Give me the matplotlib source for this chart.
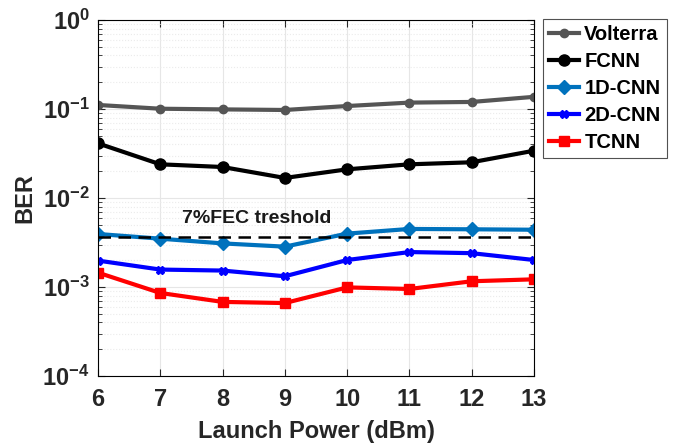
import numpy as np
import matplotlib.pyplot as plt
from matplotlib.ticker import LogLocator, NullFormatter

plt.rcParams['font.family'] = ['Liberation Sans', 'DejaVu Sans']
plt.rcParams['font.weight'] = 'bold'

power = [6, 7, 8, 9, 10, 11, 12, 13]
volterra = [0.111, 0.1007, 0.099, 0.0975, 0.108, 0.118, 0.120, 0.137]
fcnn = [0.0411, 0.0239, 0.0223, 0.0168, 0.0210, 0.0239, 0.0252, 0.0340]
cnn1d = [0.00394, 0.00349, 0.00309, 0.00284, 0.00398, 0.00449, 0.00445, 0.00440]
cnn2d = [0.00198, 0.00157, 0.00153, 0.00132, 0.00201, 0.00247, 0.00240, 0.00201]
tcnn = [0.00145, 0.000857, 0.00068, 0.00066, 0.00099, 0.00095, 0.00116, 0.00122]
fec = 0.00365

fig = plt.figure(figsize=(6.76, 4.47), dpi=100)
ax = fig.add_axes([98/676, 1-376/447, 436/676, 356/447])

ax.semilogy(power, volterra, '-o', color='#555555', lw=3, ms=6, label='Volterra')
ax.semilogy(power, fcnn, '-o', color='black', lw=3, ms=8, label='FCNN')
ax.semilogy(power, cnn1d, '-D', color='#0072BD', lw=3, ms=7, label='1D-CNN')
ax.semilogy(power, cnn2d, '-X', color='#0000FF', lw=3, ms=6, label='2D-CNN')
ax.semilogy(power, tcnn, '-s', color='#FF0000', lw=3, ms=7, label='TCNN')
ax.axhline(fec, color='black', ls='--', lw=1.8, dashes=(5, 3))
ax.text(8.55, fec*1.3, '7%FEC treshold', fontsize=14, fontweight='bold', ha='center', va='bottom',
        color='#1a1a1a')

ax.set_xlim(6, 13)
ax.set_ylim(1e-4, 1)
ax.set_xticks(power)
ax.yaxis.set_major_locator(LogLocator(base=10, numticks=10))
ax.yaxis.set_minor_locator(LogLocator(base=10, subs=np.arange(2, 10), numticks=20))
ax.yaxis.set_minor_formatter(NullFormatter())
ax.grid(True, which='major', color='#e6e6e6', lw=0.8)
ax.grid(True, which='minor', axis='y', color='#ebebeb', ls=':', lw=0.8)
ax.tick_params(which='both', direction='in', top=True, right=True, labelsize=17, colors='#262626')
ax.tick_params(axis='x', pad=9)
ax.tick_params(axis='y', pad=6)
ax.tick_params(which='major', length=5)
ax.tick_params(which='minor', length=3)
for lbl in ax.get_xticklabels() + ax.get_yticklabels():
    lbl.set_fontweight('bold')
ax.set_xlabel('Launch Power (dBm)', fontsize=17, fontweight='bold', color='#262626', labelpad=6)
ax.set_ylabel('BER', fontsize=17, fontweight='bold', color='#262626', labelpad=4)

leg = ax.legend(loc='upper left', bbox_to_anchor=(543/676, 1-19/447), bbox_transform=fig.transFigure,
                fontsize=14.5, frameon=True, fancybox=False, edgecolor='#262626',
                handlelength=1.5, handletextpad=0.25, borderpad=0.3, labelspacing=0.4, borderaxespad=0)
for t in leg.get_texts():
    t.set_fontweight('bold')
leg.get_frame().set_linewidth(0.8)

fig.savefig('out.png', dpi=100)
